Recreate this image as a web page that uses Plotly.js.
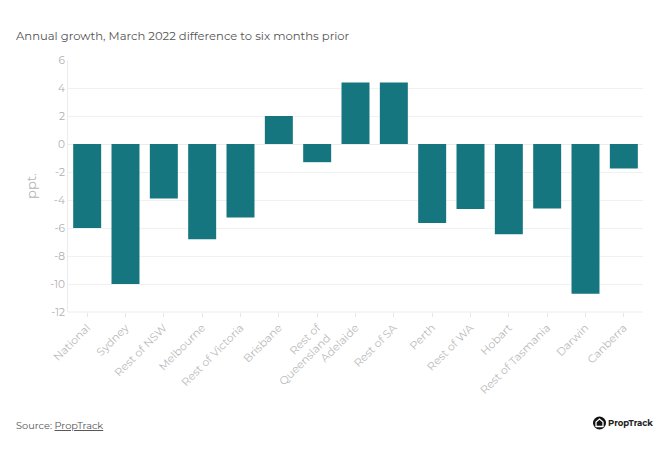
<!DOCTYPE html>
<html>
<head>
<meta charset="utf-8">
<script src="https://cdn.plot.ly/plotly-3.0.1.min.js"></script>
<style>html,body{margin:0;padding:0;background:#fff}#chart{width:672px;height:459px}</style>
</head>
<body>
<div id="chart"></div>
<script>
const regions = ["National","Sydney","Rest of NSW","Melbourne","Rest of Victoria","Brisbane","Rest of<br>Queensland","Adelaide","Rest of SA","Perth","Rest of WA","Hobart","Rest of Tasmania","Darwin","Canberra"];
const diffPpt = [-6.0,-10.0,-3.9,-6.8,-5.25,2.0,-1.3,4.4,4.4,-5.65,-4.65,-6.45,-4.6,-10.7,-1.75];
const yTicks = [-12,-10,-8,-6,-4,-2,0,2,4,6];

const FONT = "Montserrat, 'Open Sans', sans-serif";
const W = 672, H = 459, L = 68, R = 29, T = 60, B = 147;
const pw = W - L - R, ph = H - T - B;
const px = x => (x - L) / pw;
const py = y => (H - B - y) / ph;

const trace = {
  type: "bar",
  x: regions,
  y: diffPpt,
  marker: {color: "#16767f"},
  hoverinfo: "x+y"
};

const layout = {
  width: W, height: H,
  margin: {l: L, r: R, t: T, b: B},
  paper_bgcolor: "#fff", plot_bgcolor: "#fff",
  font: {family: FONT, color: "#aaaaaa", size: 11},
  bargap: 0.27,
  showlegend: false,
  xaxis: {
    type: "category",
    tickangle: -45,
    tickfont: {family: FONT, size: 11, color: "#bbbbbb"},
    ticks: "outside", ticklen: 4, tickcolor: "#e6e6e6",
    showline: false, showgrid: false, zeroline: false
  },
  yaxis: {
    range: [-12, 6],
    tickvals: yTicks,
    ticktext: yTicks.map(String),
    tickfont: {family: FONT, size: 10.5, color: "#b0b0b0"},
    showgrid: true, gridcolor: "#f1f1f1", gridwidth: 1,
    zeroline: true, zerolinecolor: "#ececec", zerolinewidth: 1,
    showline: true, linecolor: "#ececec", linewidth: 1,
    ticks: "",
    title: {text: "ppt.", font: {family: FONT, size: 13, color: "#b5b5b5"}, standoff: 10}
  },
  shapes: [
    {type: "line", xref: "paper", yref: "paper", x0: 0, x1: 1, y0: 0, y1: 0, line: {color: "#ececec", width: 1}},
    {type: "circle", xref: "paper", yref: "paper", xsizemode: "pixel", ysizemode: "pixel",
     xanchor: px(599.5), yanchor: py(423), x0: -6.5, x1: 6.5, y0: -6.5, y1: 6.5,
     fillcolor: "#111", line: {width: 0}},
    {type: "path", xref: "paper", yref: "paper", xsizemode: "pixel", ysizemode: "pixel",
     xanchor: px(599.5), yanchor: py(423),
     path: "M -3.5 -3.5 L -3.5 1 L 0 4 L 3.5 1 L 3.5 -3.5 Z",
     fillcolor: "rgba(0,0,0,0)", line: {color: "#fff", width: 1.3}}
  ],
  annotations: [
    {xref: "paper", yref: "paper", x: px(14), y: py(36), xanchor: "left", yanchor: "middle",
     text: "Annual growth, March 2022 difference to six months prior", showarrow: false,
     font: {family: FONT, size: 11.6, color: "#555555"}},
    {xref: "paper", yref: "paper", x: px(14), y: py(425), xanchor: "left", yanchor: "middle",
     text: "Source: <span style=\"text-decoration:underline\">PropTrack</span>", showarrow: false,
     font: {family: FONT, size: 9.8, color: "#555555"}},
    {xref: "paper", yref: "paper", x: px(606), y: py(423), xanchor: "left", yanchor: "middle",
     text: "<b>PropTrack</b>", showarrow: false,
     font: {family: FONT, size: 8.5, color: "#222"}}
  ]
};

Plotly.newPlot("chart", [trace], layout, {displayModeBar: false, staticPlot: true});
</script>
</body>
</html>
